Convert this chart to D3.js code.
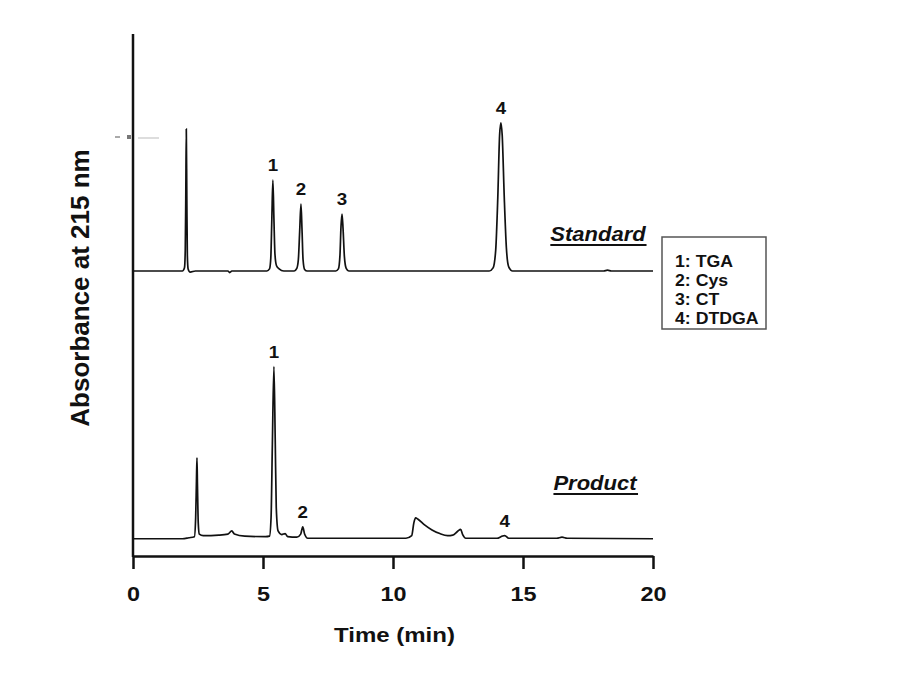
<!DOCTYPE html>
<html><head><meta charset="utf-8">
<script src="https://cdn.jsdelivr.net/npm/d3@7/dist/d3.min.js"></script>
<style>body{margin:0;background:#fff}svg{display:block}text{font-family:"Liberation Sans",Arial,sans-serif}</style>
</head><body>
<svg id="c" width="902" height="695"></svg>
<script>
// ---- data (time in min, signal relative to each trace's baseline, arbitrary absorbance units)
const xTicks = [0, 5, 10, 15, 20];
const standardOffset = 54.6;
const productOffset = 3.3;
const standardTrace = [
 [0,0],[1.9,0],[1.98,0.6],[2.01,4],[2.03,14],[2.05,27.2],[2.07,14],[2.09,3],[2.12,0.4],[2.2,-0.2],[2.4,0],
 [3.65,0],[3.72,-0.3],[3.8,0],[5.15,0],[5.25,0.4],[5.3,2.5],[5.34,10],[5.38,17.4],[5.42,10],[5.46,3.2],[5.52,1.0],[5.62,0.4],[5.8,0],
 [6.2,0],[6.3,0.5],[6.36,2.2],[6.41,7.5],[6.46,12.8],[6.5,8],[6.54,2.2],[6.6,0.3],[6.7,0],
 [7.8,0],[7.9,0.4],[7.96,3],[8.0,8.5],[8.04,10.9],[8.08,8],[8.13,2.8],[8.2,0.5],[8.3,0],
 [13.7,0],[13.85,0.6],[13.95,4],[14.03,14],[14.1,26],[14.15,28.4],[14.2,26],[14.28,14],[14.36,4.5],[14.45,0.8],[14.6,0],
 [18.1,0],[18.25,0.15],[18.4,0],[20,0]
];
const productTrace = [
 [0,0],[1.9,0],[2.15,0.2],[2.36,0.4],[2.41,4],[2.44,11],[2.46,15.5],[2.48,10],[2.51,3],[2.55,0.9],[2.7,0.6],
 [3.3,0.7],[3.65,0.9],[3.8,1.5],[3.9,0.9],[4.3,0.5],[5.1,0.4],[5.25,0.5],[5.31,4],[5.36,18],[5.42,33.0],[5.47,19],[5.51,6],[5.58,1.5],
 [5.72,0.8],[5.85,1.0],[5.95,0.4],[6.3,0.3],[6.45,0.9],[6.53,2.3],[6.6,0.9],[6.72,0.1],
 [10.5,0.1],[10.72,0.6],[10.8,3.0],[10.87,4.0],[10.95,3.8],[11.2,2.7],[11.5,1.7],[11.8,1.0],[12.1,0.6],[12.3,0.7],
 [12.5,1.5],[12.6,1.8],[12.68,0.8],[12.8,0.1],[14.0,0.1],[14.2,0.5],[14.3,0.6],[14.45,0.1],[16.3,0.1],[16.5,0.3],[16.7,0.1],[20,0]
];
const standardLabels = [{k:"1",t:5.38,v:17.4},{k:"2",t:6.46,v:12.8},{k:"3",t:8.04,v:10.9},{k:"4",t:14.15,v:28.4}];
const productLabels = [{k:"1",t:5.42,v:33.0},{k:"2",t:6.53,v:2.3},{k:"4",t:14.3,v:0.6}];
const legendItems = ["1: TGA","2: Cys","3: CT","4: DTDGA"];
const traceNames = ["Standard","Product"];

// ---- layout
const svg = d3.select("#c");
const x = d3.scaleLinear().domain([0,20]).range([133,653]);
const y = d3.scaleLinear().domain([0,100]).range([556,34]);

// horizontal widening of glyphs (the reference image is slightly stretched sideways)
function widen(sel, f){
  sel.each(function(){
    const L = this.getComputedTextLength();
    d3.select(this).attr("textLength", L*f).attr("lengthAdjust","spacingAndGlyphs");
  });
}

const line = d3.line().x(d=>x(d[0])).curve(d3.curveMonotoneX);
svg.append("path").datum(standardTrace)
  .attr("d", line.y(d=>y(d[1]+standardOffset)))
  .attr("fill","none").attr("stroke","#111").attr("stroke-width",1.7);
svg.append("path").datum(productTrace)
  .attr("d", line.y(d=>y(d[1]+productOffset)))
  .attr("fill","none").attr("stroke","#111").attr("stroke-width",1.7);

// axes
const xAxis = svg.append("g").attr("transform","translate(0,556)")
  .call(d3.axisBottom(x).tickValues(xTicks).tickSize(13).tickSizeOuter(0).tickPadding(18));
xAxis.select(".domain").attr("stroke","#111").attr("stroke-width",2.5);
xAxis.selectAll(".tick line").attr("stroke","#111").attr("stroke-width",2.5);
xAxis.selectAll(".tick text").attr("font-size",20).attr("font-weight","bold").attr("fill","#111")
  .attr("font-family","Liberation Sans, Arial, sans-serif").attr("dy","0.71em");
widen(xAxis.selectAll(".tick text"), 1.17);
svg.append("line").attr("x1",133).attr("x2",133).attr("y1",y(100)).attr("y2",557)
  .attr("stroke","#111").attr("stroke-width",2.5);

// small artifact mark near y axis
svg.append("line").attr("x1",115).attr("x2",120).attr("y1",137).attr("y2",137).attr("stroke","#555").attr("stroke-width",1);
svg.append("rect").attr("x",127).attr("y",135).attr("width",4).attr("height",4).attr("fill","#777");
svg.append("line").attr("x1",138).attr("x2",159).attr("y1",138).attr("y2",138).attr("stroke","#bbb").attr("stroke-width",1);

// axis titles
const xt = svg.append("text").attr("x",394.5).attr("y",642).attr("text-anchor","middle")
  .attr("font-size",20).attr("font-weight","bold").attr("fill","#111").text("Time (min)");
widen(xt, 1.2);
svg.append("text").attr("transform","translate(89,288) rotate(-90)").attr("text-anchor","middle")
  .attr("font-size",26).attr("font-weight","bold").attr("fill","#111").text("Absorbance at 215 nm");

// peak labels
function labels(arr, off){
  const s = svg.selectAll(null).data(arr).enter().append("text")
    .attr("x",d=>x(d.t)).attr("y",d=>y(d.v+off)-9).attr("text-anchor","middle")
    .attr("font-size",17).attr("font-weight","bold").attr("fill","#111").text(d=>d.k);
  widen(s, 1.1);
}
labels(standardLabels, standardOffset);
labels(productLabels, productOffset);

// trace names
const namePos = [[598,241],[595,490]];
traceNames.forEach((n,i)=>{
  const t = svg.append("text").attr("x",namePos[i][0]).attr("y",namePos[i][1]).attr("text-anchor","middle")
    .attr("font-size",20).attr("font-weight","bold").attr("font-style","italic").attr("fill","#111").text(n);
  widen(t, 1.1);
  const bb = t.node().getBBox();
  svg.append("line").attr("x1",bb.x).attr("x2",bb.x+bb.width).attr("y1",namePos[i][1]+4).attr("y2",namePos[i][1]+4)
    .attr("stroke","#111").attr("stroke-width",2);
});

// legend
svg.append("rect").attr("x",662).attr("y",237).attr("width",104).attr("height",92)
  .attr("fill","#fff").attr("stroke","#555").attr("stroke-width",1.5);
const lg = svg.selectAll(null).data(legendItems).enter().append("text")
  .attr("x",675).attr("y",(d,i)=>266.5+i*19.2).attr("font-size",17).attr("font-weight","bold").attr("fill","#111").text(d=>d);
widen(lg, 1.04);
</script>
</body></html>
